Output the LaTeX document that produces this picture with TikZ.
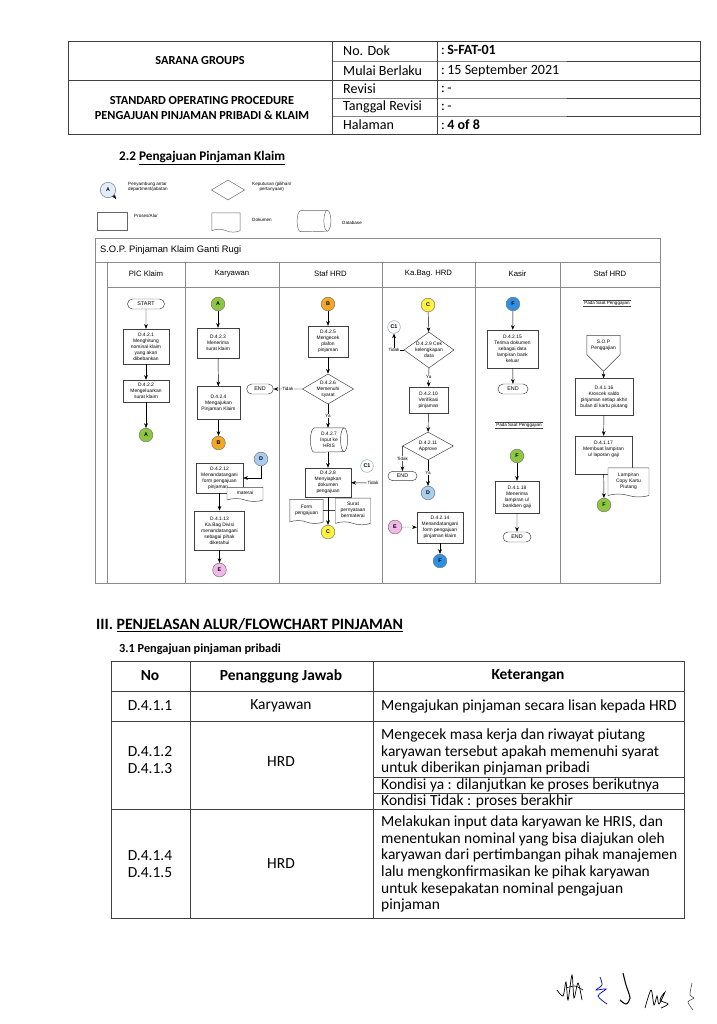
\documentclass[tikz,border=0pt]{standalone}
\usepackage{fontspec}
\setmainfont{Carlito}
\newfontfamily\arialfont{Liberation Sans}
\usetikzlibrary{positioning,arrows.meta,shapes.geometric,shapes.misc,shapes.symbols,calc}
\definecolor{sophijau}{HTML}{8DC63F}
\definecolor{sopjingga}{HTML}{F5A623}
\definecolor{sopkuning}{HTML}{FFF23A}
\definecolor{sopbiru}{HTML}{2F8FE0}
\definecolor{sopbirumuda}{HTML}{A9CDEE}
\definecolor{sopmerahmuda}{HTML}{F2B8E8}
\definecolor{sopgaris}{HTML}{404040}
\definecolor{sopabu}{HTML}{8A8A8A}
\tikzset{
  sopproses/.style={draw=sopgaris, fill=white, align=center, inner sep=0.5pt,
                    font=\arialfont\fontsize{4.2}{5.2}\selectfont},
  sopkeputusan/.style={diamond, draw=sopgaris, fill=white, align=center, inner sep=0pt, aspect=1.7,
                    font=\arialfont\fontsize{4.2}{5.2}\selectfont},
  sopterminal/.style={rounded rectangle, draw=sopgaris, fill=white, inner sep=0pt,
                    font=\arialfont\fontsize{4.6}{5.5}\selectfont},
  sopdokumen/.style={tape, tape bend top=none, tape bend bottom=out and in, tape bend height=2.5pt,
                    draw=sopgaris, fill=white, align=center, inner sep=0.5pt,
                    font=\arialfont\fontsize{4.2}{5.2}\selectfont},
  sopdbisi/.style={rectangle, align=center, inner sep=0pt, font=\arialfont\fontsize{4.2}{5.2}\selectfont},
  sopofpage/.style={signal, signal to=south, signal from=nowhere, draw=sopgaris, fill=white,
                    align=center, inner sep=0.5pt, font=\arialfont\fontsize{4.2}{5.2}\selectfont},
  soppenghubung/.style={circle, draw=black!55, inner sep=0pt, minimum size=4.1mm,
                    font=\arialfont\bfseries\fontsize{4.6}{5}\selectfont},
  sopanah/.style={-{Stealth[length=1.4mm, width=1.1mm]}, draw=black, line width=0.4pt},
  sopbingkai/.style={draw=sopabu, line width=0.4pt},
  sopkecil/.style={font=\arialfont\fontsize{3.9}{4.6}\selectfont, inner sep=0.5pt},
  soplegenda/.style={font=\arialfont\fontsize{3.9}{4.8}\selectfont, align=center, inner sep=0pt},
  sopraia/.style={font=\arialfont\fontsize{6.6}{8}\selectfont},
  soptabel/.style={draw=sopgaris, line width=0.5pt},
  sopkop/.style={font=\fontsize{12}{14}\selectfont, inner sep=0pt},
  sopteks/.style={font=\fontsize{13.2}{14.2}\selectfont, inner sep=0pt},
}
\begin{document}
\begin{tikzpicture}[x=0.03cm, y=-0.03cm]
        \useasboundingbox[fill=white] (0,0) rectangle (716,1024);
        % ---------------- kepala dokumen ----------------
        \draw[soptabel] (68,41) rectangle (700,134);
        \draw[soptabel] (332,41) -- (332,134);
        \draw[soptabel] (437,41) -- (437,134);
        \draw[soptabel] (68,80) -- (700,80);
        \foreach \y in {61,98,116} {\draw[soptabel] (332,\y) -- (437,\y) -- (700,\y);}
        \node[font=\bfseries\fontsize{10.5}{12}\selectfont] (kop1) at (200,61) {SARANA GROUPS};
        \node[font=\bfseries\fontsize{10.5}{12}\selectfont, align=center] (kop2) at (202,108) {STANDARD OPERATING PROCEDURE\\PENGAJUAN PINJAMAN PRIBADI \& KLAIM};
        \node[sopkop, anchor=west] (lab1) at (343,51) {No. Dok};
        \node[sopkop, anchor=west] (lab2) at (343,71) {Mulai Berlaku};
        \node[sopkop, anchor=west] (lab3) at (343,89) {Revisi};
        \node[sopkop, anchor=west] (lab4) at (343,107) {Tanggal Revisi};
        \node[sopkop, anchor=west] (lab5) at (343,125) {Halaman};
        \node[sopkop, anchor=west] (nil1) at (441,50) {:\,\textbf{S-FAT-01}};
        \node[sopkop, anchor=west] (nil2) at (441,71) {:\,15 September 2021};
        \node[sopkop, anchor=west] (nil3) at (441,89) {:\,-};
        \node[sopkop, anchor=west] (nil4) at (441,107) {:\,-};
        \node[sopkop, anchor=west] (nil5) at (441,125) {:\,\textbf{4 of 8}};
        % ---------------- judul dan keterangan simbol ----------------
        \node[anchor=west, font=\bfseries\fontsize{11.3}{13}\selectfont] (judul22) at (115,158) {2.2 \underline{Pengajuan Pinjaman Klaim}};
        \node[soppenghubung, fill=sopbirumuda!35, minimum size=4.6mm] (lgA) at (108,190) {A};
        \coordinate (lgAujung) at (116,199);
        \draw[sopanah] (lgA.south east) -- (lgAujung);
        \node[soplegenda, align=left, anchor=west] (lgAteks) at (128,187) {Penyambung antar\\department/jabatan};
        \node[sopkeputusan, draw=black!60, minimum width=1.0cm, minimum height=0.6cm] (lgkep) at (228,190) {};
        \node[soplegenda, anchor=west] (lgkepteks) at (252,187) {Keputusan (pilihan/\\pertanyaan)};
        \node[sopproses, draw=black!60, minimum width=0.9cm, minimum height=0.55cm] (lgproses) at (112,221) {};
        \node[soplegenda, anchor=west] (lgprosesteks) at (134,216) {Proses/Alur};
        \node[sopdokumen, draw=black!60, minimum width=0.85cm, minimum height=0.58cm] (lgdok) at (226,221) {};
        \node[soplegenda, anchor=west] (lgdokteks) at (252,220) {Dokumen};
        \node[sopdbisi, minimum width=1.0cm, minimum height=0.63cm] (lgdb) at (314,221) {};
        \draw[draw=black!60] ([xshift=3pt]lgdb.north west) -- ([xshift=-3pt]lgdb.north east)
            arc[start angle=90, end angle=-90, x radius=3pt, y radius=8.93pt] -- ([xshift=3pt]lgdb.south west)
            arc[start angle=270, end angle=90, x radius=3pt, y radius=8.93pt];
        \draw[draw=black!60] ([xshift=-3pt]lgdb.north east) arc[start angle=90, end angle=270, x radius=3pt, y radius=8.93pt];
        \node[soplegenda, anchor=west] (lgdbteks) at (342,223) {Database};
        % ---------------- raia ----------------
        \draw[sopbingkai] (95,238) rectangle (660,583);
        \draw[sopbingkai] (95,262) -- (660,262);
        \draw[sopbingkai] (107,287) -- (660,287);
        \foreach \x in {107,185,279,382,475,560} {\draw[sopbingkai] (\x,262) -- (\x,583);}
        \node[anchor=west, font=\arialfont\fontsize{8}{9}\selectfont] (judulsop) at (96,250) {S.O.P. Pinjaman Klaim Ganti Rugi};
        \node[sopraia] (raia1) at (146,274) {PIC Klaim};
        \node[sopraia] (raia2) at (232,274) {Karyawan};
        \node[sopraia] (raia3) at (330.5,274) {Staf HRD};
        \node[sopraia] (raia4) at (428.5,274) {Ka.Bag. HRD};
        \node[sopraia] (raia5) at (517.5,274) {Kasir};
        \node[sopraia] (raia6) at (610,274) {Staf HRD};
        % ---------------- PIC Klaim ----------------
        \node[sopterminal, minimum width=1.11cm, minimum height=0.3cm] (mulai) at (146,304) {START};
        \node[sopproses, minimum width=1.38cm, minimum height=1.05cm] (p421) at (146,346.5) {D.4.2.1\\Menghitung\\nominal klaim\\yang akan\\dibebankan};
        \node[sopproses, minimum width=1.38cm, minimum height=0.66cm] (p422) at (146,391) {D.4.2.2\\Mengeluarkan\\surat klaim};
        \node[soppenghubung, fill=sophijau] (cA1) at (146,435) {A};
        % ---------------- Karyawan ----------------
        \node[soppenghubung, fill=sophijau] (cA2) at (218,304) {A};
        \node[sopproses, minimum width=1.26cm, minimum height=0.9cm] (p423) at (218,343) {D.4.2.3\\Menerima\\surat klaim};
        \node[sopproses, minimum width=1.29cm, minimum height=0.99cm] (p424) at (218.5,403) {D.4.2.4\\Mengajukan\\Pinjaman Klaim};
        \node[soppenghubung, fill=sopjingga] (cB1) at (218.5,443) {B};
        \node[soppenghubung, fill=sopbirumuda] (cD1) at (261,459) {D};
        \node[sopproses, minimum width=1.41cm, minimum height=0.9cm] (p4212) at (219.5,478) {D.4.2.12\\Menandatangani\\form pengajuan\\pinjaman\phantom{g}};
        \node[sopdokumen, minimum width=1.08cm, minimum height=0.42cm] (dmaterai) at (245,493) {materai};
        \node[sopproses, line width=0.8pt, minimum width=1.5cm, minimum height=1.17cm] (p4113) at (219.5,530.5) {D.4.1.13\\Ka.Bag Divisi\\menandatangani\\sebagai pihak\\diketahui};
        \node[soppenghubung, fill=sopmerahmuda] (cE1) at (219.5,570) {E};
        % ---------------- Staf HRD ----------------
        \node[soppenghubung, fill=sopjingga] (cB2) at (328,304) {B};
        \node[sopproses, minimum width=1.2cm, minimum height=0.93cm] (p425) at (328,341.5) {D.4.2.5\\Mengecek\\plafon\\pinjaman};
        \node[sopkeputusan, minimum width=1.5cm, minimum height=0.9cm] (k426) at (328,389) {D.4.2.6\\Memenuhi\\syarat};
        \node[sopterminal, minimum width=0.8cm, minimum height=0.3cm] (selesai1) at (260,389) {END};
        \node[sopdbisi, minimum width=1.1cm, minimum height=0.72cm] (db427) at (329,440) {D.4.2.7\\Input ke\\HRIS};
        \draw[sopgaris] ([xshift=3pt]db427.north west) -- ([xshift=-3pt]db427.north east)
            arc[start angle=90, end angle=-90, x radius=3pt, y radius=10.2pt] -- ([xshift=3pt]db427.south west)
            arc[start angle=270, end angle=90, x radius=3pt, y radius=10.2pt];
        \draw[sopgaris] ([xshift=-3pt]db427.north east) arc[start angle=90, end angle=270, x radius=3pt, y radius=10.2pt];
        \node[sopproses, minimum width=1.38cm, minimum height=0.87cm] (p428) at (328,482.5) {D.4.2.8\\Menyiapkan\\dokumen\\pengajuan};
        \node[soppenghubung, fill=white, draw=sopbirumuda!80!black, minimum size=3.8mm] (cC1a) at (367,466) {C1};
        \node[sopkecil] (tidak3) at (373,483) {Tidak};
        \node[sopdokumen, minimum width=1.0cm, minimum height=0.72cm] (dform) at (306.5,510) {Form\\pengajuan};
        \node[sopdokumen, minimum width=1.05cm, minimum height=0.8cm] (dsurat) at (353,510) {Surat\\pernyataan\\bermaterai};
        \node[soppenghubung, fill=sopkuning] (cC2) at (328,532) {C};
        % ---------------- Ka.Bag. HRD ----------------
        \node[soppenghubung, fill=sopkuning] (cC3) at (428,305) {C};
        \node[soppenghubung, fill=white, draw=sopbirumuda!80!black, minimum size=3.8mm] (cC1b) at (394,327) {C1};
        \node[sopkeputusan, aspect=1.4, minimum width=1.44cm, minimum height=1.08cm] (k429) at (429,350) {D.4.2.9 Cek\\kelengkapan\\data};
        \node[sopproses, minimum width=1.17cm, minimum height=0.78cm] (p4210) at (428.5,400) {D.4.2.10\\Verifikasi\\pinjaman};
        \node[sopkeputusan, minimum width=1.53cm, minimum height=0.84cm] (k4211) at (428,446) {D.4.2.11\\Approve};
        \node[sopterminal, minimum width=0.87cm, minimum height=0.28cm] (selesai2) at (402.5,476) {END};
        \node[soppenghubung, fill=sopbirumuda] (cD2) at (428,493) {D};
        \node[soppenghubung, fill=sopmerahmuda] (cE2) at (395,527) {E};
        \node[sopproses, minimum width=1.38cm, minimum height=0.93cm] (p4214) at (440,527.5) {D.4.2.14\\Menandatangani\\form pengajuan\\pinjaman klaim};
        \node[soppenghubung, fill=sopbiru] (cF1) at (440,561) {F};
        % ---------------- Kasir ----------------
        \node[soppenghubung, fill=sopbiru] (cF2) at (513,304) {F};
        \node[sopproses, minimum width=1.53cm, minimum height=1.14cm] (p4215) at (512.5,349) {D.4.2.15\\Terima dokumen\\sebagai data\\lampiran bank\\keluar};
        \node[sopterminal, minimum width=0.9cm, minimum height=0.3cm] (selesai3) at (513,389) {END};
        \node[sopkecil] (gaji1) at (519,425.5) {Pada Saat Penggajian};
        \draw[sopgaris, line width=0.3pt] (gaji1.north west) -- (gaji1.north east);
        \draw[sopgaris, line width=0.3pt] (gaji1.south west) -- (gaji1.south east);
        \node[soppenghubung, fill=sophijau] (cF3) at (517,456) {F};
        \node[sopproses, minimum width=1.32cm, minimum height=0.96cm] (p4118) at (517,497) {D.4.1.18\\Menerima\\lampiran u/\\bankben gaji};
        \node[sopterminal, minimum width=0.84cm, minimum height=0.3cm] (selesai4) at (517,537) {END};
        % ---------------- Staf HRD (penggajian) ----------------
        \node[sopkecil] (gaji2) at (607,303) {Pada Saat Penggajian};
        \draw[sopgaris, line width=0.3pt] (gaji2.north west) -- (gaji2.north east);
        \draw[sopgaris, line width=0.3pt] (gaji2.south west) -- (gaji2.south east);
        \node[sopofpage, minimum width=1.0cm, minimum height=0.96cm] (sopgaji) at (603.5,345) {S.O.P\\Penggajian};
        \node[sopproses, minimum width=1.74cm, minimum height=1.11cm] (p4116) at (604,397) {D.4.1.16\\Kroscek saldo\\pinjaman setiap akhir\\bulan di kartu piutang};
        \node[sopproses, minimum width=1.71cm, minimum height=1.14cm] (p4117) at (603.5,455) {D.4.1.17\\Membuat lampiran\\u/ laporan gaji\\[5pt]};
        \node[sopdokumen, minimum width=1.23cm, minimum height=0.87cm] (dlampiran) at (628.5,481) {Lampiran\\Copy Kartu\\Piutang};
        \node[soppenghubung, fill=sophijau] (cF4) at (604,505) {F};
        % ---------------- panah ----------------
        \draw[sopanah] (mulai) -- (p421);
        \draw[sopanah] (p421) -- (p422);
        \draw[sopanah] (p422) -- (cA1);
        \draw[sopanah] (cA2) -- (p423);
        \draw[sopanah] (p423) -- (p424);
        \draw[sopanah] (p424) -- (cB1);
        \draw[sopanah] (cD1) |- (p4212.east);
        \draw[sopanah] (p4212.south) -- (p4113);
        \draw[sopanah] (p4113) -- (cE1);
        \draw[sopanah] (cB2) -- (p425);
        \draw[sopanah] (p425) -- (k426);
        \draw[sopanah] (k426) -- node[sopkecil, fill=white] {Tidak} (selesai1);
        \draw[sopanah] (k426) -- node[sopkecil, fill=white] {Ya} (db427.north -| k426);
        \draw[sopanah] (db427.south -| p428) -- (p428);
        \draw[sopanah] (tidak3) -- (p428);
        \draw[sopgaris, line width=0.4pt] (dform.east) -- (dsurat.west);
        \draw[sopanah] (p428) -- (cC2);
        \draw[sopanah] (cC3) -- (k429);
        \draw[sopanah] (k429.west) -| node[pos=0.5, sopkecil, fill=white] {Tidak} (cC1b);
        \draw[sopanah] (k429) -- node[sopkecil, fill=white] {Ya} (p4210);
        \draw[sopanah] (p4210) -- (k4211);
        \draw[sopanah] (k4211.west) -- node[sopkecil, fill=white] {Tidak} (selesai2);
        \draw[sopanah] (k4211) -- node[sopkecil, fill=white] {Ya} (cD2);
        \draw[sopanah, densely dotted] (cE2) -- (p4214);
        \draw[sopanah] (p4214) -- (cF1);
        \draw[sopanah] (cF2) -- (p4215);
        \draw[sopanah] (p4215) -- (selesai3);
        \draw[sopanah] (cF3) -- (p4118);
        \draw[sopanah] (p4118) -- (selesai4);
        \draw[sopanah] (sopgaji.south) -- (p4116);
        \draw[sopanah] (p4116) -- (p4117);
        \draw[sopanah] (p4117) -- (cF4);
        % ---------------- penjelasan alur ----------------
        \node[anchor=west, font=\bfseries\fontsize{13.5}{16}\selectfont] (judul3) at (92,625) {III. \underline{PENJELASAN ALUR/FLOWCHART PINJAMAN}};
        \node[anchor=west, font=\bfseries\fontsize{10.5}{12}\selectfont] (judul31) at (115,649) {3.1 Pengajuan pinjaman pribadi};
        \draw[soptabel] (111,661) rectangle (684,918);
        \draw[soptabel] (190,661) -- (190,918);
        \draw[soptabel] (373,661) -- (373,918);
        \foreach \y in {691,721,809} {\draw[soptabel] (111,\y) -- (684,\y);}
        \foreach \y in {777,793} {\draw[soptabel] (373,\y) -- (684,\y);}
        \node[sopteks, font=\bfseries\fontsize{13.2}{15}\selectfont] (hno) at (150,676) {No};
        \node[sopteks, font=\bfseries\fontsize{13.2}{15}\selectfont] (hpj) at (281,676) {Penanggung Jawab};
        \node[sopteks, font=\bfseries\fontsize{13.2}{15}\selectfont] (hket) at (528,676) {Keterangan};
        \node[sopteks] (no1) at (150,706) {D.4.1.1};
        \node[sopteks] (pj1) at (281,706) {Karyawan};
        \node[sopteks, anchor=west] (ket1) at (381,706) {Mengajukan pinjaman secara lisan kepada HRD};
        \node[sopteks, align=left] (no2) at (150,760) {D.4.1.2\\D.4.1.3};
        \node[sopteks] (pj2) at (281,762) {HRD};
        \node[sopteks, anchor=west, align=left] (ket2) at (381,752) {Mengecek masa kerja dan riwayat piutang\\karyawan tersebut apakah memenuhi syarat\\untuk diberikan pinjaman pribadi};
        \node[sopteks, anchor=west] (ket2a) at (381,785) {Kondisi ya : dilanjutkan ke proses berikutnya};
        \node[sopteks, anchor=west] (ket2b) at (381,801) {Kondisi Tidak : proses berakhir};
        \node[sopteks, align=left] (no3) at (150,864) {D.4.1.4\\D.4.1.5};
        \node[sopteks] (pj3) at (281,864) {HRD};
        \node[sopteks, anchor=west, align=left] (ket3) at (381,864) {Melakukan input data karyawan ke HRIS, dan\\menentukan nominal yang bisa diajukan oleh\\karyawan dari pertimbangan pihak manajemen\\lalu mengkonfirmasikan ke pihak karyawan\\untuk kesepakatan nominal pengajuan\\pinjaman};
        % ---------------- paraf ----------------
        \draw[black, line width=0.6pt] plot[smooth] coordinates {(557,990) (563,996) (566,982) (568,1000) (572,975) (574,998) (578,983) (582,1000)};
        \draw[black, line width=0.5pt] plot[smooth] coordinates {(566,988) (575,986) (583,990)};
        \draw[blue!75!black, line width=0.6pt] plot[smooth] coordinates {(600,977) (602,985) (596,990) (606,989) (598,996) (607,1004)};
        \draw[black, line width=0.9pt] plot[smooth] coordinates {(623,973) (626,985) (630,998) (626,1004) (620,1000)};
        \draw[black, line width=0.6pt] plot[smooth] coordinates {(645,1008) (651,990) (654,1005) (657,996) (659,1004) (665,992) (660,1000) (668,1004) (661,1008)};
        \draw[black!70, line width=0.5pt] plot[smooth] coordinates {(692,983) (690,995) (694,998) (688,1002) (693,1010)};
\end{tikzpicture}
\end{document}
